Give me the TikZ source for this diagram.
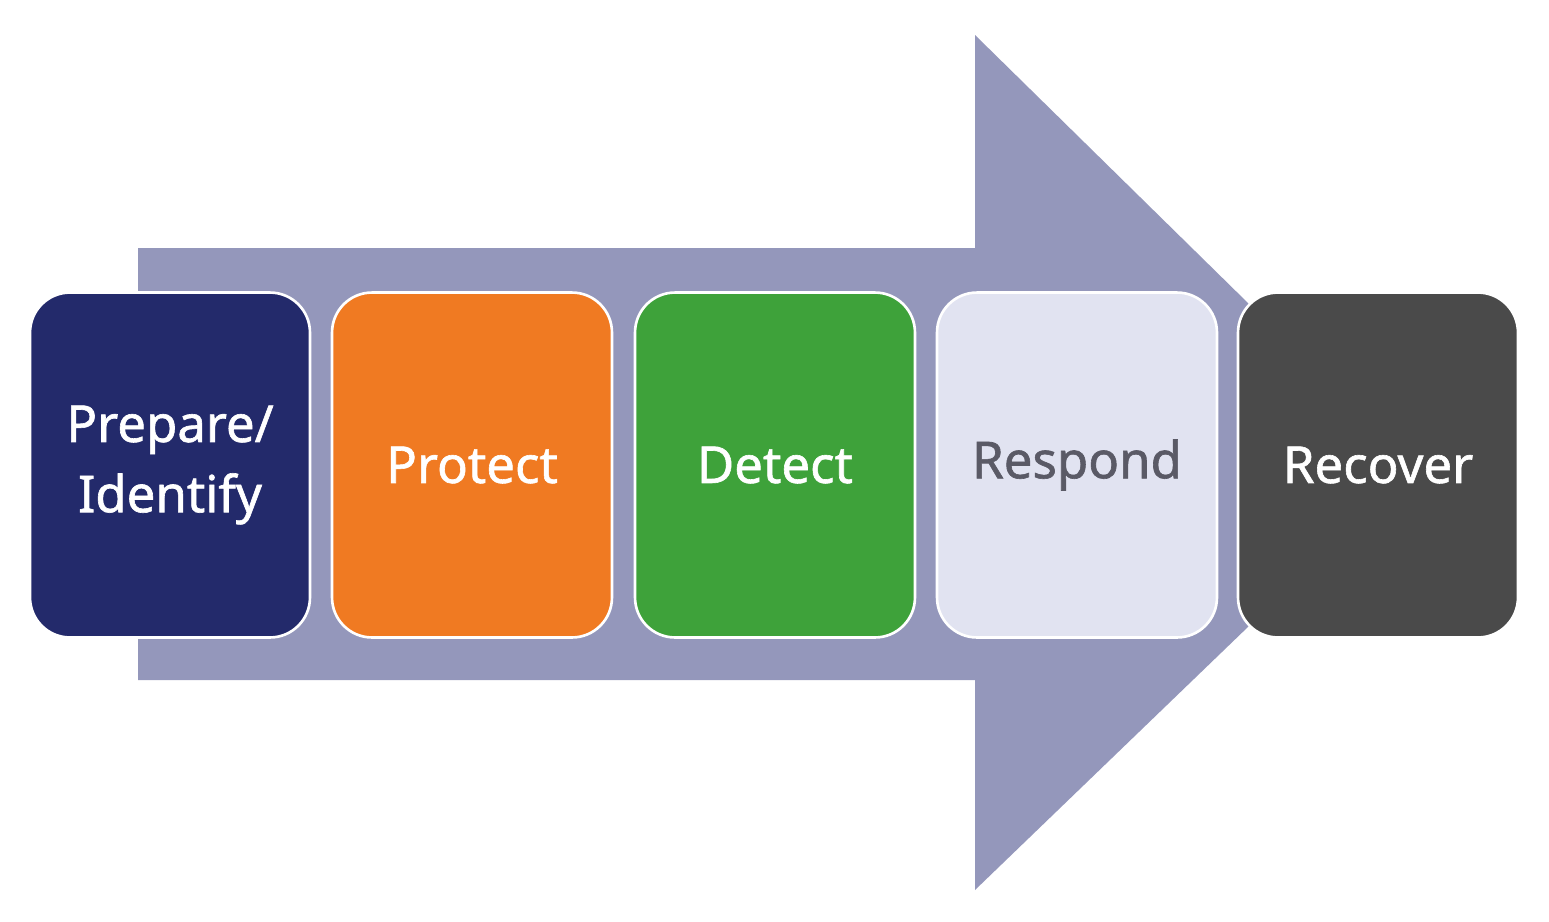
\documentclass[tikz,border=0pt]{standalone}
\usepackage{fontspec}
\setmainfont{Noto Sans}[FakeBold=1.2]
\definecolor{arr}{HTML}{9497BB}
\definecolor{navy}{HTML}{232A6B}
\definecolor{org}{HTML}{F07A22}
\definecolor{grn}{HTML}{3EA23A}
\definecolor{lgt}{HTML}{E1E3F1}
\definecolor{dgr}{HTML}{4A4A4A}
\definecolor{gtx}{HTML}{5A5A66}
\begin{document}
\begin{tikzpicture}[x=0.02cm,y=-0.02cm,
  box/.style={draw=white,line width=1.5pt,rounded corners=0.8cm,minimum width=5.6cm,minimum height=6.9cm,inner sep=0pt,align=center,font=\fontsize{29}{40}\selectfont,text=white}]
\useasboundingbox (0,0) rectangle (1549,921);
\fill[arr] (138,248) -- (975,248) -- (975,35) -- (1250,305) -- (1250,625) -- (975,890) -- (975,680) -- (138,680) -- cycle;
\node[box,fill=navy] (a) at (170,465) {Prepare/\\Identify};
\node[box,fill=org] (b) at (472,465) {Protect};
\node[box,fill=grn] (c) at (775,465) {Detect};
\node[box,fill=lgt,text=gtx] (d) at (1077,465) {Respond};
\node[box,fill=dgr] (e) at (1378,465) {Recover};
\end{tikzpicture}
\end{document}
